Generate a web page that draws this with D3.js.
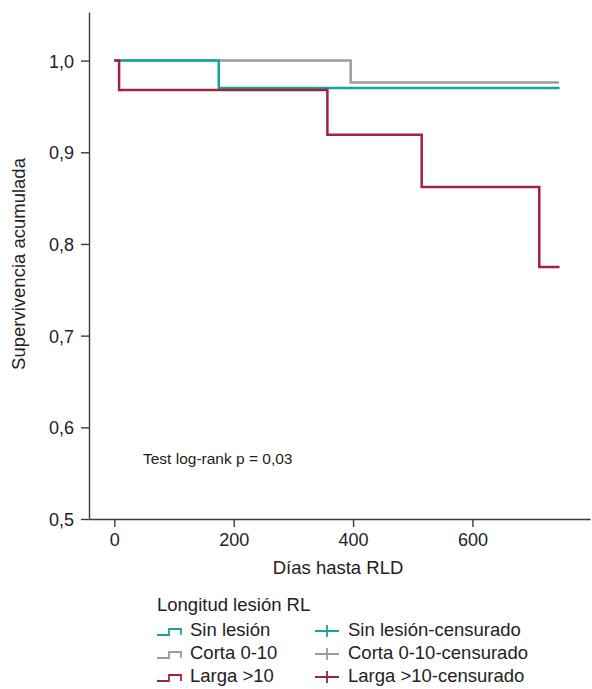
<!DOCTYPE html>
<html>
<head>
<meta charset="utf-8">
<script src="https://cdn.jsdelivr.net/npm/d3@7"></script>
<style>
  body { margin: 0; background: #fff; }
  svg { display: block; font-family: "Liberation Sans", Arial, sans-serif; }
</style>
</head>
<body>
<div class="chart"></div>
<script>
// Kaplan-Meier curves
const groups = ["Sin lesión", "Corta 0-10", "Larga >10"];
const colors = ["#16a39c", "#9c9ca0", "#a3223f"];

const sinLesionDays = [0, 175, 746];
const sinLesionSurv = [1.0, 0.970, 0.970];

const cortaDays = [0, 396, 745];
const cortaSurv = [1.0, 0.976, 0.976];

const largaDays = [0, 8, 357, 515, 712, 746];
const largaSurv = [1.0, 0.968, 0.919, 0.862, 0.775, 0.775];

const yTicks = [0.5, 0.6, 0.7, 0.8, 0.9, 1.0];
const xTicks = [0, 200, 400, 600];

const series = [
  { name: groups[1], color: colors[1], days: cortaDays, surv: cortaSurv },
  { name: groups[0], color: colors[0], days: sinLesionDays, surv: sinLesionSurv },
  { name: groups[2], color: colors[2], days: largaDays, surv: largaSurv },
];

const width = 592, height = 689;

const x = d3.scaleLinear().domain([-42.4, 797]).range([89, 590]);
const y = d3.scaleLinear().domain([0.5, 1.053]).range([519, 12]);

const svg = d3.select(".chart")
  .append("svg")
  .attr("width", width)
  .attr("height", height);

// axes
const fmt = (d) => d3.format(".1f")(d).replace(".", ",");

const yAxis = svg.append("g")
  .attr("transform", `translate(${x.range()[0]},0)`)
  .call(d3.axisLeft(y).tickValues(yTicks).tickFormat(fmt).tickSize(8).tickSizeOuter(0).tickPadding(7));

const xAxis = svg.append("g")
  .attr("transform", `translate(0,${y.range()[0]})`)
  .call(d3.axisBottom(x).tickValues(xTicks).tickSize(8).tickSizeOuter(0).tickPadding(6));

[yAxis, xAxis].forEach((g) => {
  g.selectAll("path, line").attr("stroke", "#3a3a3a").attr("stroke-width", 1.4);
  g.selectAll("text").attr("fill", "#222").style("font-size", "18px")
    .style("font-family", "Liberation Sans, Arial, sans-serif");
});
yAxis.selectAll("text").attr("dy", "0.36em");

// curves
const line = d3.line()
  .x((d) => x(d[0]))
  .y((d) => y(d[1]))
  .curve(d3.curveStepAfter);

svg.selectAll(".km")
  .data(series)
  .join("path")
  .attr("class", "km")
  .attr("fill", "none")
  .attr("stroke", (d) => d.color)
  .attr("stroke-width", 2.5)
  .attr("d", (d) => line(d.days.map((t, i) => [t, d.surv[i]])));

// labels
svg.append("text")
  .attr("transform", "translate(25,264) rotate(-90)")
  .attr("text-anchor", "middle")
  .style("font-size", "18.5px")
  .attr("fill", "#222")
  .text("Supervivencia acumulada");

svg.append("text")
  .attr("x", 338)
  .attr("y", 574)
  .attr("text-anchor", "middle")
  .style("font-size", "18.5px")
  .attr("fill", "#222")
  .text("Días hasta RLD");

svg.append("text")
  .attr("x", 143)
  .attr("y", 464)
  .style("font-size", "15.5px")
  .attr("fill", "#222")
  .text("Test log-rank p = 0,03");

// legend
const legend = svg.append("g").attr("transform", "translate(157,611)");
legend.append("text")
  .style("font-size", "18.5px")
  .attr("fill", "#222")
  .text("Longitud lesión RL");

const rows = legend.selectAll(".row")
  .data(groups)
  .join("g")
  .attr("class", "row")
  .attr("transform", (d, i) => `translate(0,${24 + i * 23})`);

rows.append("path")
  .attr("d", "M0,0H12V-6H24V0")
  .attr("fill", "none")
  .attr("stroke", (d, i) => colors[i])
  .attr("stroke-width", 1.8);

rows.append("text")
  .attr("x", 33)
  .attr("y", 1)
  .style("font-size", "18.5px")
  .attr("fill", "#222")
  .text((d) => d);

rows.append("path")
  .attr("d", "M158,-4H182M170,-10V2")
  .attr("fill", "none")
  .attr("stroke", (d, i) => colors[i])
  .attr("stroke-width", 1.8);

rows.append("text")
  .attr("x", 191)
  .attr("y", 1)
  .style("font-size", "18.5px")
  .attr("fill", "#222")
  .text((d) => d + "-censurado");
</script>
</body>
</html>
